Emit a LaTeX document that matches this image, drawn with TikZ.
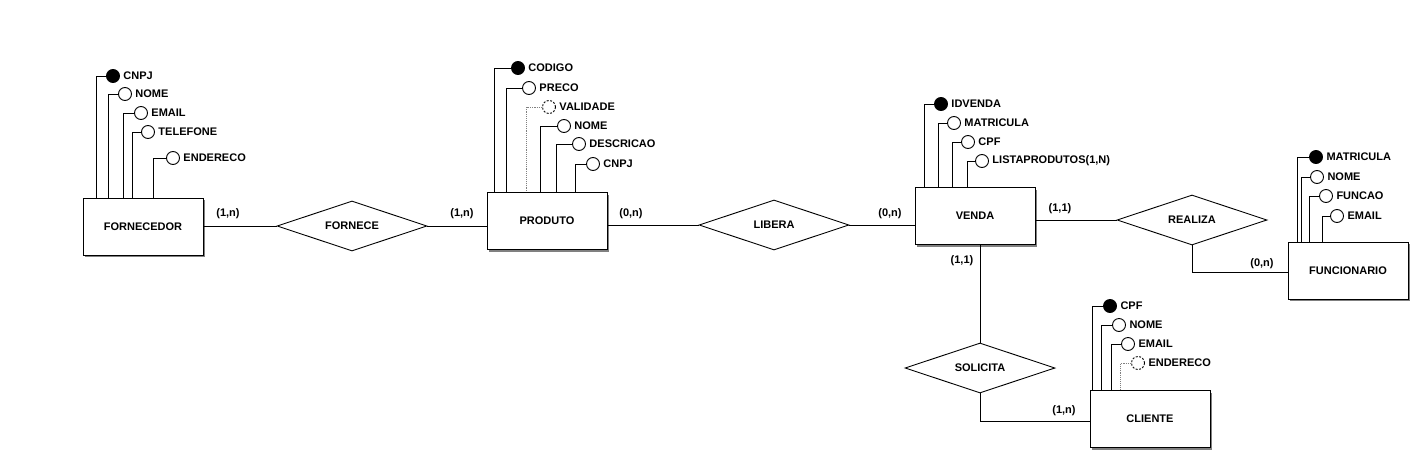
\documentclass[tikz,border=0pt]{standalone}
\usepackage{fontspec}
\setmainfont{Liberation Sans}
\usepackage{tikz}
\usetikzlibrary{positioning,shapes.geometric,shadows}

\tikzset{
  every node/.style={font=\fontsize{11}{13}\selectfont\bfseries},
  entidade/.style={draw,fill=white,line width=0.9pt,minimum width=120pt,minimum height=57pt,
    drop shadow={shadow xshift=2pt,shadow yshift=-2pt,fill=black!50,opacity=1}},
  relacao/.style={draw,diamond,aspect=3,inner sep=0pt,line width=0.9pt,minimum width=150pt,minimum height=50pt},
  atrib/.style={draw,circle,fill=white,inner sep=0pt,minimum size=13pt,line width=0.9pt,label distance=0pt},
  chave/.style={fill=black},
  opcional/.style={dashed,dash pattern=on 2pt off 1.5pt},
  liga/.style={line width=0.9pt},
  ligaop/.style={densely dotted,gray,line width=0.9pt},
  card/.style={inner sep=1pt}
}

\begin{document}
\begin{tikzpicture}[x=1pt,y=-1pt]
\useasboundingbox (0,0) rectangle (1412,452);

% entidades
\node[entidade] (forn) at (143,226.5) {FORNECEDOR};
\node[entidade] (prod) at (547,221) {PRODUTO};
\node[entidade] (venda) at (975,216) {VENDA};
\node[entidade] (func) at (1348,270.5) {FUNCIONARIO};
\node[entidade] (cli) at (1150,419) {CLIENTE};

% relacionamentos
\node[relacao] (fornece) at (352,226) {FORNECE};
\node[relacao] (libera) at (774,225) {LIBERA};
\node[relacao] (realiza) at (1192,220) {REALIZA};
\node[relacao] (solicita) at (980,368) {SOLICITA};

\draw[liga] (fornece.west -| forn.east) -- (fornece.west);
\draw[liga] (fornece.east) -- (fornece.east -| prod.west);
\draw[liga] (libera.west -| prod.east) -- (libera.west);
\draw[liga] (libera.east) -- (libera.east -| venda.west);
\draw[liga] (realiza.west -| venda.east) -- (realiza.west);
\draw[liga] (realiza.south) |- ([yshift=-2pt]func.west);
\draw[liga] (solicita.north |- venda.south) -- (solicita.north);
\draw[liga] (solicita.south) |- ([yshift=-2pt]cli.west);

% cardinalidades
\node[card] (c1) at (228,214) {(1,n)};
\node[card] (c2) at (462,214) {(1,n)};
\node[card] (c3) at (631,214) {(0,n)};
\node[card] (c4) at (890,214) {(0,n)};
\node[card] (c5) at (1060,209) {(1,1)};
\node[card] (c6) at (1262,264) {(0,n)};
\node[card] (c7) at (962,261) {(1,1)};
\node[card] (c8) at (1064,411) {(1,n)};

% atributos FORNECEDOR
\node[atrib,chave,label={right:CNPJ}] (f1) at (113,76) {};
\node[atrib,label={right:NOME}] (f2) at (125,94) {};
\node[atrib,label={right:EMAIL}] (f3) at (141,113) {};
\node[atrib,label={right:TELEFONE}] (f4) at (148,132) {};
\node[atrib,label={right:ENDERECO}] (f5) at (173,158) {};
\draw[liga] (f1.west) -| ([xshift=14pt]forn.north west);
\draw[liga] (f2.west) -| ([xshift=26pt]forn.north west);
\draw[liga] (f3.west) -| ([xshift=41pt]forn.north west);
\draw[liga] (f4.west) -| ([xshift=50pt]forn.north west);
\draw[liga] (f5.west) -| ([xshift=71pt]forn.north west);

% atributos PRODUTO
\node[atrib,chave,label={right:CODIGO}] (p1) at (518,68) {};
\node[atrib,label={right:PRECO}] (p2) at (529,88) {};
\node[atrib,opcional,label={right:VALIDADE}] (p3) at (549,107) {};
\node[atrib,label={right:NOME}] (p4) at (564,126) {};
\node[atrib,label={right:DESCRICAO}] (p5) at (579,144) {};
\node[atrib,label={right:CNPJ}] (p6) at (593,164) {};
\draw[liga] (p1.west) -| ([xshift=8pt]prod.north west);
\draw[liga] (p2.west) -| ([xshift=20pt]prod.north west);
\draw[ligaop] (p3.west) -| ([xshift=40pt]prod.north west);
\draw[liga] (p4.west) -| ([xshift=54pt]prod.north west);
\draw[liga] (p5.west) -| ([xshift=70pt]prod.north west);
\draw[liga] (p6.west) -| ([xshift=89pt]prod.north west);

% atributos VENDA
\node[atrib,chave,label={right:IDVENDA}] (v1) at (941,104) {};
\node[atrib,label={right:MATRICULA}] (v2) at (954,123) {};
\node[atrib,label={right:CPF}] (v3) at (968,142) {};
\node[atrib,label={right:LISTAPRODUTOS(1,N)}] (v4) at (982,161) {};
\draw[liga] (v1.west) -| ([xshift=10pt]venda.north west);
\draw[liga] (v2.west) -| ([xshift=24pt]venda.north west);
\draw[liga] (v3.west) -| ([xshift=38pt]venda.north west);
\draw[liga] (v4.west) -| ([xshift=53pt]venda.north west);

% atributos FUNCIONARIO
\node[atrib,chave,label={right:MATRICULA}] (u1) at (1316,157) {};
\node[atrib,label={right:NOME}] (u2) at (1317,177) {};
\node[atrib,label={right:FUNCAO}] (u3) at (1326,196) {};
\node[atrib,label={right:EMAIL}] (u4) at (1337,216) {};
\draw[liga] (u1.west) -| ([xshift=10pt]func.north west);
\draw[liga] (u2.west) -| ([xshift=14pt]func.north west);
\draw[liga] (u3.west) -| ([xshift=22pt]func.north west);
\draw[liga] (u4.west) -| ([xshift=35pt]func.north west);

% atributos CLIENTE
\node[atrib,chave,label={right:CPF}] (k1) at (1110,306) {};
\node[atrib,label={right:NOME}] (k2) at (1119,325) {};
\node[atrib,label={right:EMAIL}] (k3) at (1128,344) {};
\node[atrib,opcional,label={right:ENDERECO}] (k4) at (1138,363) {};
\draw[liga] (k1.west) -| ([xshift=3pt]cli.north west);
\draw[liga] (k2.west) -| ([xshift=12pt]cli.north west);
\draw[liga] (k3.west) -| ([xshift=22pt]cli.north west);
\draw[ligaop] (k4.west) -| ([xshift=31pt]cli.north west);
\end{tikzpicture}
\end{document}
